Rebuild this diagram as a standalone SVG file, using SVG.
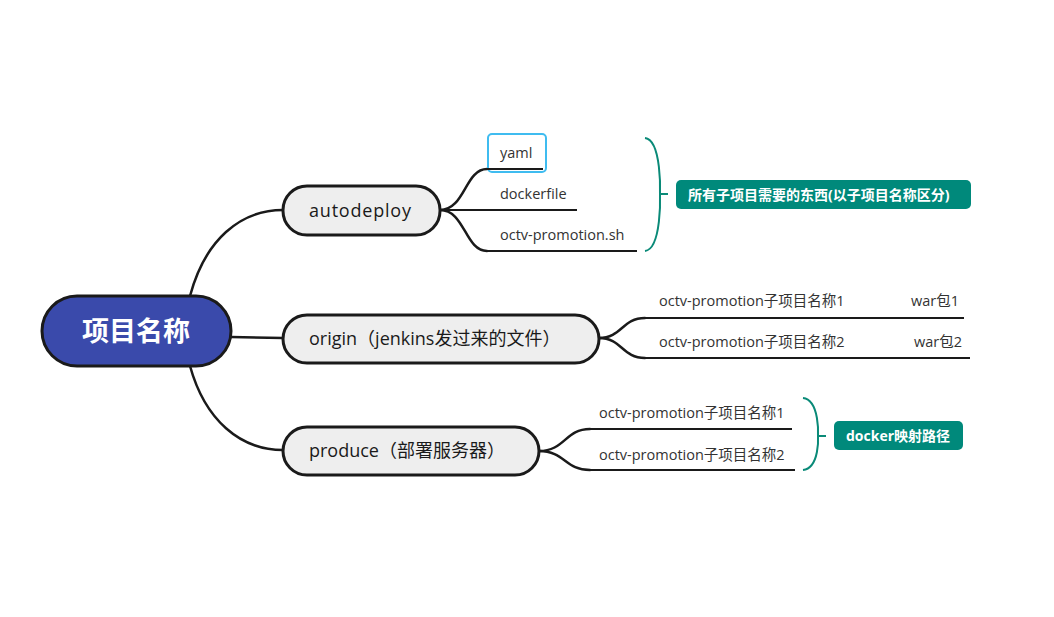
<svg xmlns="http://www.w3.org/2000/svg" width="1054" height="617" viewBox="0 0 1054 617">
<style>
.main{fill:#eeeeee;stroke:#1a1a1a;stroke-width:3}
.mt{font-family:"Open Sans","Noto Sans CJK SC",sans-serif;font-size:18px;fill:#1a1a1a}
.lt{font-family:"Open Sans","Noto Sans CJK SC",sans-serif;font-size:14.5px;fill:#333333}
.conn{fill:none;stroke:#1a1a1a;stroke-width:2.5;stroke-linecap:round}
.ul{fill:none;stroke:#1a1a1a;stroke-width:2}
.br{fill:none;stroke:#0a8a78;stroke-width:2}
.lab{fill:#00897b}
.labt{font-family:"Open Sans","Noto Sans CJK SC",sans-serif;font-size:14px;font-weight:bold;fill:#ffffff}
</style>
<rect width="1054" height="617" fill="#ffffff"/>
<g id="connectors">
<path class="conn" d="M190,296 C205,240 240,210 283,210"/>
<path class="conn" d="M231,337 L283,338"/>
<path class="conn" d="M190,366 C205,420 240,450 283,450"/>
<path class="conn" d="M440,210 C465,210 465,169 487,169"/>
<path class="conn" d="M440,210 C465,210 465,251 487,251"/>
<path class="conn" d="M599,338 C622,338 622,318 645,318"/>
<path class="conn" d="M599,338 C622,338 622,358 645,358"/>
<path class="conn" d="M539,451 C565,451 565,429 590,429"/>
<path class="conn" d="M539,451 C565,451 565,470 590,470"/>
</g>
<g id="root">
<rect x="42" y="296" width="189" height="70" rx="35" fill="#3a4aab" stroke="#1a1a1a" stroke-width="3"/>
<text x="136" y="341" text-anchor="middle" font-family="'Noto Sans CJK SC',sans-serif" font-size="27" font-weight="bold" fill="#ffffff">项目名称</text>
</g>
<g id="autodeploy">
<rect class="main" x="283" y="186" width="157" height="49" rx="24"/>
<text class="mt" x="309" y="217" textLength="102">autodeploy</text>
</g>
<g id="origin">
<rect class="main" x="283" y="315" width="316" height="48" rx="24"/>
<text class="mt" x="309" y="345">origin（jenkins发过来的文件）</text>
</g>
<g id="produce">
<rect class="main" x="283" y="427" width="256" height="48" rx="24"/>
<text class="mt" x="309" y="457">produce（部署服务器）</text>
</g>
<g id="yaml">
<rect x="488" y="134" width="58" height="38" rx="4" fill="none" stroke="#3fbcf0" stroke-width="2"/>
<line class="ul" x1="487" y1="169" x2="543" y2="169"/>
<text class="lt" x="500" y="158">yaml</text>
</g>
<g id="dockerfile">
<line class="ul" x1="440" y1="210" x2="577" y2="210"/>
<text class="lt" x="500" y="199">dockerfile</text>
</g>
<g id="octv-sh">
<line class="ul" x1="487" y1="251" x2="637" y2="251"/>
<text class="lt" x="500" y="240">octv-promotion.sh</text>
</g>
<g id="summary1">
<path class="br" d="M645,138 C662,140 660,194 660,194 C660,194 662,249 645,251 M660,194 L668,194"/>
<rect class="lab" x="676" y="180" width="295" height="29" rx="5"/>
<text class="labt" x="688" y="200">所有子项目需要的东西(以子项目名称区分)</text>
</g>
<g id="origin-1">
<line class="ul" x1="645" y1="318" x2="964" y2="318"/>
<text class="lt" x="659" y="306">octv-promotion子项目名称1</text>
<text class="lt" x="911" y="306">war包1</text>
</g>
<g id="origin-2">
<line class="ul" x1="645" y1="358" x2="970" y2="358"/>
<text class="lt" x="659" y="347">octv-promotion子项目名称2</text>
<text class="lt" x="914" y="347">war包2</text>
</g>
<g id="produce-1">
<line class="ul" x1="590" y1="429" x2="792" y2="429"/>
<text class="lt" x="599" y="418">octv-promotion子项目名称1</text>
</g>
<g id="produce-2">
<line class="ul" x1="590" y1="470" x2="795" y2="470"/>
<text class="lt" x="599" y="460">octv-promotion子项目名称2</text>
</g>
<g id="summary2">
<path class="br" d="M803,398 C820,400 818,436 818,436 C818,436 820,468 803,470 M818,436 L826,436"/>
<rect class="lab" x="834" y="421" width="129" height="29" rx="5"/>
<text class="labt" x="846" y="441">docker映射路径</text>
</g>
</svg>
